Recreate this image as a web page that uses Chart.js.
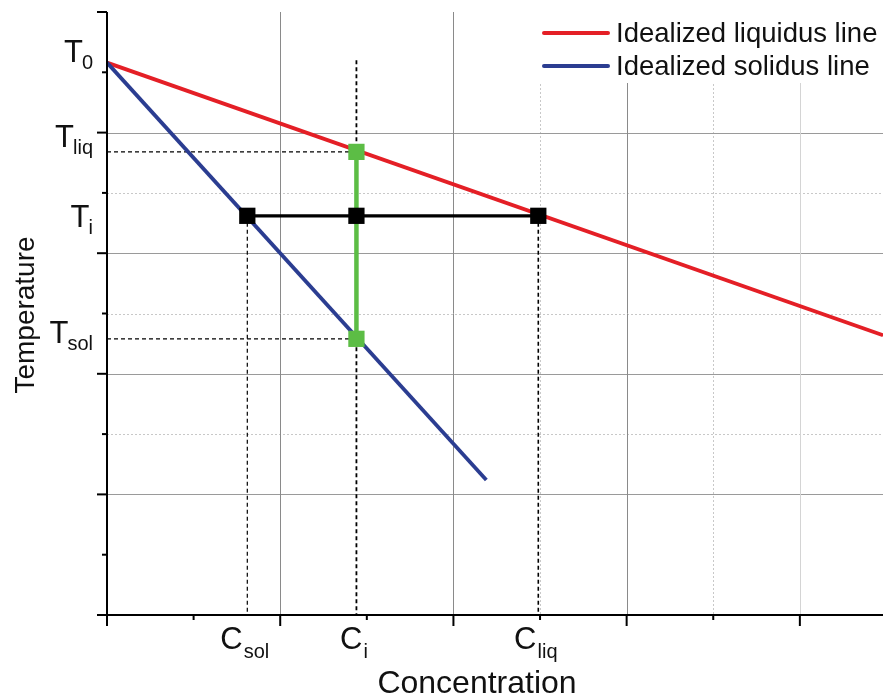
<!DOCTYPE html>
<html>
<head>
<meta charset="utf-8">
<script src="https://cdn.jsdelivr.net/npm/chart.js@4.4.1/dist/chart.umd.min.js"></script>
<style>
html,body{margin:0;padding:0;background:#fff;}
#wrap{width:883px;height:697px;position:relative;}
</style>
</head>
<body>
<div id="wrap"><canvas id="c" width="883" height="697"></canvas></div>
<script>
// ---- data (axis units) ----
const T0 = 4.58, Tliq = 3.84, Ti = 3.31, Tsol = 2.29;
const Csol = 0.81, Ci = 1.44, Cliq = 2.49;
const liquidusX = [0, 4.48];
const liquidusY = [4.58, 2.32];
const solidusX = [0, 2.19];
const solidusY = [4.58, 1.12];
const ciDashTop = 4.60;

const seriesNames = ['Idealized liquidus line', 'Idealized solidus line'];
const yTickMain = 'T';
const yTickSubs = ['0', 'liq', 'i', 'sol'];
const yTickAt = [4.68, 3.97, 3.31, 2.35];
const xTickMain = 'C';
const xTickSubs = ['sol', 'i', 'liq'];
const xTickAt = [Csol, Ci, Cliq];
const xTitle = 'Concentration';
const yTitle = 'Temperature';

const xMax = 4.48, yMax = 5;
const gridMajorX = [1, 2, 3];
const gridFaintX = [4];
const gridMinorX = [2.5, 3.5];
const gridMajorY = [1, 2, 3, 4];
const gridMinorY = [1.5, 2.5, 3.5];
const tickMajorX = [0, 1, 2, 3, 4];
const tickMinorX = [0.5, 1.5, 2.5, 3.5];
const tickMajorY = [0, 1, 2, 3, 4, 5];
const tickMinorY = [0.5, 1.5, 2.5, 3.5, 4.5];

const FONT = '"Liberation Sans", Arial, Helvetica, sans-serif';
const RED = '#e41f26', BLUE = '#2b3d91', GREEN = '#5cbd45';

function pts(xs, ys){ return xs.map((x,i)=>({x:x, y:ys[i]})); }
function dashed(xs, ys, w){
  return {data: pts(xs, ys), showLine:true, borderColor:'#000', borderWidth:w||1.2,
          borderDash:[4,3], pointRadius:0, fill:false, order:5};
}

const datasets = [
  dashed([0, Ci], [Tliq, Tliq]),
  dashed([0, Ci], [Tsol, Tsol]),
  dashed([Ci, Ci], [ciDashTop, 0], 1.8),
  dashed([Csol, Csol], [Ti, 0]),
  dashed([Cliq, Cliq], [Ti, 0], 1.6),
  {label: seriesNames[0], data: pts(liquidusX, liquidusY), showLine:true, borderColor:RED,
   borderWidth:3.8, pointRadius:0, order:4},
  {label: seriesNames[1], data: pts(solidusX, solidusY), showLine:true, borderColor:BLUE,
   borderWidth:3.8, pointRadius:0, order:3},
  {data: pts([Ci, Ci], [Tliq, Tsol]), showLine:true, borderColor:GREEN, borderWidth:4.5,
   pointStyle:'rect', pointRadius:11.5, pointBackgroundColor:GREEN, pointBorderWidth:0, order:2},
  {data: pts([Csol, Ci, Cliq], [Ti, Ti, Ti]), showLine:true, borderColor:'#000', borderWidth:3.2,
   pointStyle:'rect', pointRadius:11.5, pointBackgroundColor:'#000', pointBorderWidth:0, order:1}
];

const decor = {
  id:'decor',
  beforeDatasetsDraw(chart){
    const ctx = chart.ctx, xs = chart.scales.x, ys = chart.scales.y, a = chart.chartArea;
    ctx.save();
    function vline(v, color, dash){
      const px = Math.round(xs.getPixelForValue(v)) + 0.5;
      ctx.strokeStyle = color; ctx.lineWidth = 1; ctx.setLineDash(dash);
      ctx.beginPath(); ctx.moveTo(px, a.top); ctx.lineTo(px, a.bottom); ctx.stroke();
    }
    function hline(v, color, dash){
      const py = Math.round(ys.getPixelForValue(v)) + 0.5;
      ctx.strokeStyle = color; ctx.lineWidth = 1; ctx.setLineDash(dash);
      ctx.beginPath(); ctx.moveTo(a.left, py); ctx.lineTo(a.right, py); ctx.stroke();
    }
    gridMinorY.forEach(v=>hline(v, '#c8c8c8', [2,2]));
    gridMinorX.forEach(v=>vline(v, '#c8c8c8', [2,2]));
    gridMajorY.forEach(v=>hline(v, '#9a9a9a', []));
    gridMajorX.forEach(v=>vline(v, '#8a8a8a', []));
    gridFaintX.forEach(v=>vline(v, '#d4d4d4', []));
    // legend background box
    ctx.setLineDash([]);
    ctx.fillStyle = '#fff';
    ctx.fillRect(530, a.top, a.right - 530, 71);
    // legend
    const items = [[seriesNames[0], RED, 33], [seriesNames[1], BLUE, 66]];
    items.forEach(([t, col, y])=>{
      ctx.strokeStyle = col; ctx.lineWidth = 4; ctx.lineCap = 'round';
      ctx.beginPath(); ctx.moveTo(544, y); ctx.lineTo(608, y); ctx.stroke();
      ctx.fillStyle = '#111'; ctx.font = '27.5px ' + FONT;
      ctx.textAlign = 'left'; ctx.textBaseline = 'middle';
      ctx.fillText(t, 616, y + 1);
    });
    ctx.restore();
  },
  afterDatasetsDraw(chart){
    const ctx = chart.ctx, xs = chart.scales.x, ys = chart.scales.y, a = chart.chartArea;
    ctx.save();
    ctx.setLineDash([]);
    ctx.strokeStyle = '#000'; ctx.lineWidth = 2;
    // axes
    ctx.beginPath();
    ctx.moveTo(a.left, a.top); ctx.lineTo(a.left, a.bottom + 1);
    ctx.moveTo(a.left - 1, a.bottom); ctx.lineTo(a.right, a.bottom);
    ctx.stroke();
    // ticks
    tickMajorY.forEach(v=>{ const p = ys.getPixelForValue(v);
      ctx.beginPath(); ctx.moveTo(a.left - 10, p); ctx.lineTo(a.left, p); ctx.stroke(); });
    tickMinorY.forEach(v=>{ const p = ys.getPixelForValue(v);
      ctx.beginPath(); ctx.moveTo(a.left - 5, p); ctx.lineTo(a.left, p); ctx.stroke(); });
    tickMajorX.forEach(v=>{ const p = xs.getPixelForValue(v);
      ctx.beginPath(); ctx.moveTo(p, a.bottom); ctx.lineTo(p, a.bottom + 11); ctx.stroke(); });
    tickMinorX.forEach(v=>{ const p = xs.getPixelForValue(v);
      ctx.beginPath(); ctx.moveTo(p, a.bottom); ctx.lineTo(p, a.bottom + 5); ctx.stroke(); });
    // tick labels with subscripts
    ctx.fillStyle = '#111';
    const mainF = '31px ' + FONT, subF = '20px ' + FONT;
    ctx.textBaseline = 'alphabetic'; ctx.textAlign = 'left';
    yTickSubs.forEach((s, i)=>{
      const cy = ys.getPixelForValue(yTickAt[i]);
      ctx.font = mainF; const wm = ctx.measureText(yTickMain).width;
      ctx.font = subF; const ws = ctx.measureText(s).width;
      const right = 93, x0 = right - ws - wm + 1;
      const base = cy + 11;
      ctx.font = mainF; ctx.fillText(yTickMain, x0, base);
      ctx.font = subF; ctx.fillText(s, x0 + wm - 1, base + 7);
    });
    xTickSubs.forEach((s, i)=>{
      const cx = xs.getPixelForValue(xTickAt[i]);
      ctx.font = mainF; const wm = ctx.measureText(xTickMain).width;
      ctx.font = subF; const ws = ctx.measureText(s).width;
      const x0 = cx - (wm + ws) / 2 - 3;
      const base = 649;
      ctx.font = mainF; ctx.fillText(xTickMain, x0, base);
      ctx.font = subF; ctx.fillText(s, x0 + wm + 1, base + 9);
    });
    // axis titles
    ctx.textAlign = 'center'; ctx.textBaseline = 'middle';
    ctx.font = '32px ' + FONT;
    ctx.fillText(xTitle, 477, 684);
    ctx.font = '28px ' + FONT;
    ctx.translate(26, 315); ctx.rotate(-Math.PI / 2);
    ctx.fillText(yTitle, 0, 0);
    ctx.restore();
  }
};

new Chart(document.getElementById('c'), {
  type: 'scatter',
  data: { datasets: datasets },
  options: {
    responsive: false, animation: false, events: [],
    layout: { autoPadding: false, padding: { left: 107, top: 12, right: 0, bottom: 82 } },
    plugins: { legend: { display: false }, tooltip: { enabled: false } },
    scales: {
      x: { type: 'linear', min: 0, max: xMax, display: false },
      y: { type: 'linear', min: 0, max: yMax, display: false }
    }
  },
  plugins: [decor]
});
</script>
</body>
</html>
